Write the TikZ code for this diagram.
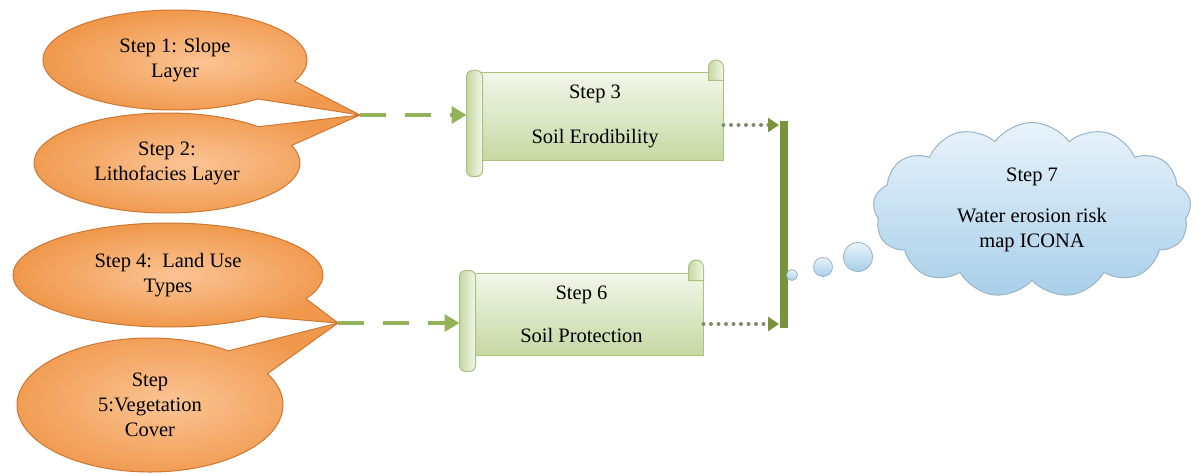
\documentclass[tikz,border=0pt]{standalone}
\usepackage{fontspec}
\setmainfont{Liberation Serif}
\usetikzlibrary{calc,arrows.meta,shapes.callouts,shapes.symbols}
\definecolor{calloutlight}{HTML}{FBC494}
\definecolor{calloutdark}{HTML}{F0984C}
\definecolor{calloutline}{HTML}{CF7630}
\definecolor{scrolllight}{HTML}{F2F6EA}
\definecolor{scrolldark}{HTML}{C6D8A2}
\definecolor{scrollline}{HTML}{A9C27E}
\definecolor{linkgreen}{HTML}{92B35A}
\definecolor{bargreen}{HTML}{77933C}
\definecolor{dotgray}{HTML}{7F8A6C}
\definecolor{cloudlight}{HTML}{E8F3FB}
\definecolor{clouddark}{HTML}{A8CFE9}
\definecolor{cloudline}{HTML}{9AB3C6}

\tikzset{
	stepbubble/.style={ellipse callout, draw=calloutline, line width=1pt, inner color=calloutlight, outer color=calloutdark, inner sep=0pt, align=center, callout pointer arc=26},
	scrollbody/.style={rectangle, draw=scrollline, line width=1pt, top color=scrolllight, bottom color=scrolldark, inner sep=0pt, align=center},
	scrollpart/.style={draw=scrollline, line width=1pt, left color=scrolldark, right color=scrolllight},
	dashlink/.style={draw=linkgreen, line width=4.5pt, dash pattern=on 26pt off 19pt, -{Triangle[length=15pt,width=17pt,color=linkgreen]}},
	dotlink/.style={draw=dotgray, line width=4pt, line cap=round, dash pattern=on 0pt off 7.5pt, -{Triangle[length=11pt,width=14pt,color=bargreen]}},
	joinbar/.style={draw=bargreen, line width=8pt},
	cloudnode/.style={cloud, cloud puffs=13, cloud puff arc=110, aspect=1.8, draw=cloudline, line width=1pt, top color=cloudlight, bottom color=clouddark, minimum width=318pt, minimum height=175pt, inner sep=0pt, align=center},
	bubble/.style={circle, draw=cloudline, line width=0.8pt, top color=cloudlight, bottom color=clouddark, inner sep=0pt}
}

% left roll and top curl of a scroll
\newcommand\scrollrolls[1]{%
	\draw[scrollpart, rounded corners=6pt] ($(#1.north west)+(0,-2)$) -- ($(#1.south west)+(0,16)$) -- ($(#1.south west)+(16,16)$) -- ($(#1.north west)+(16,-2)$) -- cycle;
	\draw[scrollpart] ($(#1.north east)+(-15,8)$) -- ($(#1.north east)+(-15,-5)$) arc[start angle=180, end angle=0, radius=7.5pt] -- ($(#1.north east)+(0,8)$) -- cycle;
}

\begin{document}
\begin{tikzpicture}[x=1pt, y=-1pt, font=\fontsize{20.5}{25}\selectfont]
	\useasboundingbox (0,0) rectangle (1199,476);

	\coordinate (c12) at (360,115);
	\coordinate (c45) at (338,323);

	\node[stepbubble, minimum width=266pt, minimum height=100pt, callout absolute pointer={(c12)}] (st2) at (167,163) {Step 2:\\Lithofacies Layer};
	\node[stepbubble, minimum width=264pt, minimum height=100pt, callout absolute pointer={(c12)}] (st1) at (175,60) {Step 1: Slope\\Layer};
	\node[stepbubble, minimum width=266pt, minimum height=134pt, callout absolute pointer={(c45)}] (st5) at (150,405) {Step\\5:Vegetation\\Cover};
	\node[stepbubble, minimum width=310pt, minimum height=104pt, callout absolute pointer={(c45)}] (st4) at (168,275) {Step 4:\ \ Land Use\\Types};

	\node[scrollbody, minimum width=256pt, minimum height=87pt] (s3) at (595,116.5) {Step 3\\[20pt]Soil Erodibility};
	\scrollrolls{s3}
	\node[scrollbody, minimum width=243pt, minimum height=82pt] (s6) at (581.5,314) {Step 6\\[18pt]Soil Protection};
	\scrollrolls{s6}

	\draw[dashlink] (c12) -- (c12 -| s3.west);
	\draw[dashlink] (c45) -- (c45 -| s6.west);

	\coordinate (j3) at (779,125);
	\coordinate (j6) at (779,324);
	\coordinate (bt) at (784,121);
	\coordinate (bb) at (784,328);
	\draw[dotlink] (s3.east |- j3) -- (j3);
	\draw[dotlink] (s6.east |- j6) -- (j6);
	\draw[joinbar] (bt) -- (bb);

	\node[bubble, minimum size=11pt] (b1) at (792,275) {};
	\node[bubble, minimum size=19pt] (b2) at (823,267) {};
	\node[bubble, minimum size=29pt] (b3) at (858,257) {};
	\node[cloudnode] (st7) at (1032,210) {Step 7\\[16pt]Water erosion risk\\map ICONA};
\end{tikzpicture}
\end{document}
